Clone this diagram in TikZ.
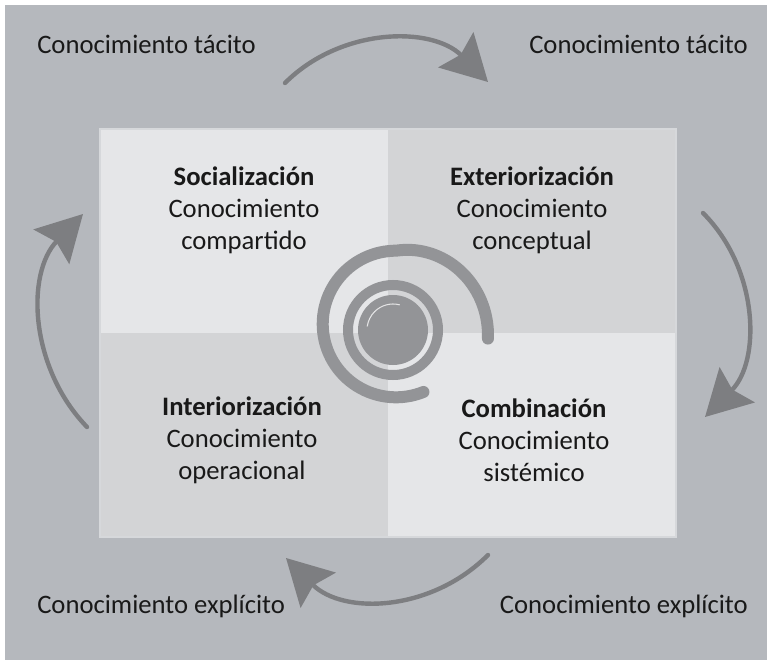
\documentclass[tikz,border=0pt]{standalone}
\usepackage{fontspec}
\setmainfont{Carlito}
\usetikzlibrary{arrows.meta}
\definecolor{fondo}{RGB}{181,184,189}
\definecolor{claro}{RGB}{229,230,232}
\definecolor{oscuro}{RGB}{211,212,214}
\definecolor{borde}{RGB}{214,216,219}
\definecolor{grisespiral}{RGB}{147,148,151}
\definecolor{grisflecha}{RGB}{125,126,129}
\tikzset{
  texto/.style={inner sep=0pt, font=\fontsize{20}{24}\selectfont, text=black!90},
  cuadro/.style={texto, align=center},
  flecha/.style={draw=grisflecha, line width=3.3pt, line cap=round,
    -{Stealth[length=34pt,width=37pt,inset=5pt]}},
  espiral/.style={draw=grisespiral, line cap=round}
}

\begin{document}
\begin{tikzpicture}[x=0.75pt,y=0.75pt,yscale=-1,xscale=1]
\useasboundingbox (0,0) rectangle (767,660);

%Background
\fill [white] (0,0) rectangle (767,660) ;
\fill [fondo] (5,5) rectangle (767,660) ;

%Quadrants
\fill [claro] (100,129) rectangle (388,333) ;
\fill [oscuro] (388,129) rectangle (676,333) ;
\fill [oscuro] (100,333) rectangle (388,537) ;
\fill [claro] (388,333) rectangle (676,537) ;
\draw [borde, line width=1.2pt] (100,129) rectangle (676,537) ;

%Spiral
\fill [grisespiral] (393,330) circle [radius=35] ;
\draw [white!75!grisespiral, line width=0.8pt] (393,330) ++(-75:26) arc [start angle=-75, end angle=-172, radius=26] ;
\draw [espiral, line width=7.5pt] (393,330) circle [radius=45] ;
\draw [espiral, line width=9pt] plot [domain=-9:292, samples=90, smooth]
  ({396+(73.3+max(0,90-\x)*0.2)*cos(\x)}, {324-(73.3+max(0,90-\x)*0.2)*sin(\x)}) ;

% Text Node
\node (tacitoL) [texto, anchor=base west] at (37,54) {Conocimiento tácito};
% Text Node
\node (tacitoR) [texto, anchor=base east] at (748,54) {Conocimiento tácito};
% Text Node
\node (explicitoL) [texto, anchor=base west] at (37,613) {Conocimiento explícito};
% Text Node
\node (explicitoR) [texto, anchor=base east] at (748,613) {Conocimiento explícito};

% Text Node
\node (soc) [cuadro] at (244,210) {\textbf{Socialización}\\Conocimiento\\compartido};
% Text Node
\node (ext) [cuadro] at (532,210) {\textbf{Exteriorización}\\Conocimiento\\conceptual};
% Text Node
\node (inter) [cuadro] at (242,440) {\textbf{Interiorización}\\Conocimiento\\operacional};
% Text Node
\node (comb) [cuadro] at (534,440) {\textbf{Combinación}\\Conocimiento\\sistémico};

%Arrows
\coordinate (arribaA) at (285,83) ;
\coordinate (arribaB) at (488,82) ;
\coordinate (derA) at (703,213) ;
\coordinate (derB) at (705,417) ;
\coordinate (abajoA) at (488,555) ;
\coordinate (abajoB) at (286,558) ;
\coordinate (izqA) at (87,427) ;
\coordinate (izqB) at (83,214) ;
\draw [flecha] (arribaA) .. controls (341,27) and (432,26) .. (arribaB) ;
\draw [flecha] (derA) .. controls (759,269) and (761,361) .. (derB) ;
\draw [flecha] (abajoA) .. controls (431,612) and (343,615) .. (abajoB) ;
\draw [flecha] (izqA) .. controls (29.6,367.6) and (25.6,273.4) .. (izqB) ;

\end{tikzpicture}
\end{document}
